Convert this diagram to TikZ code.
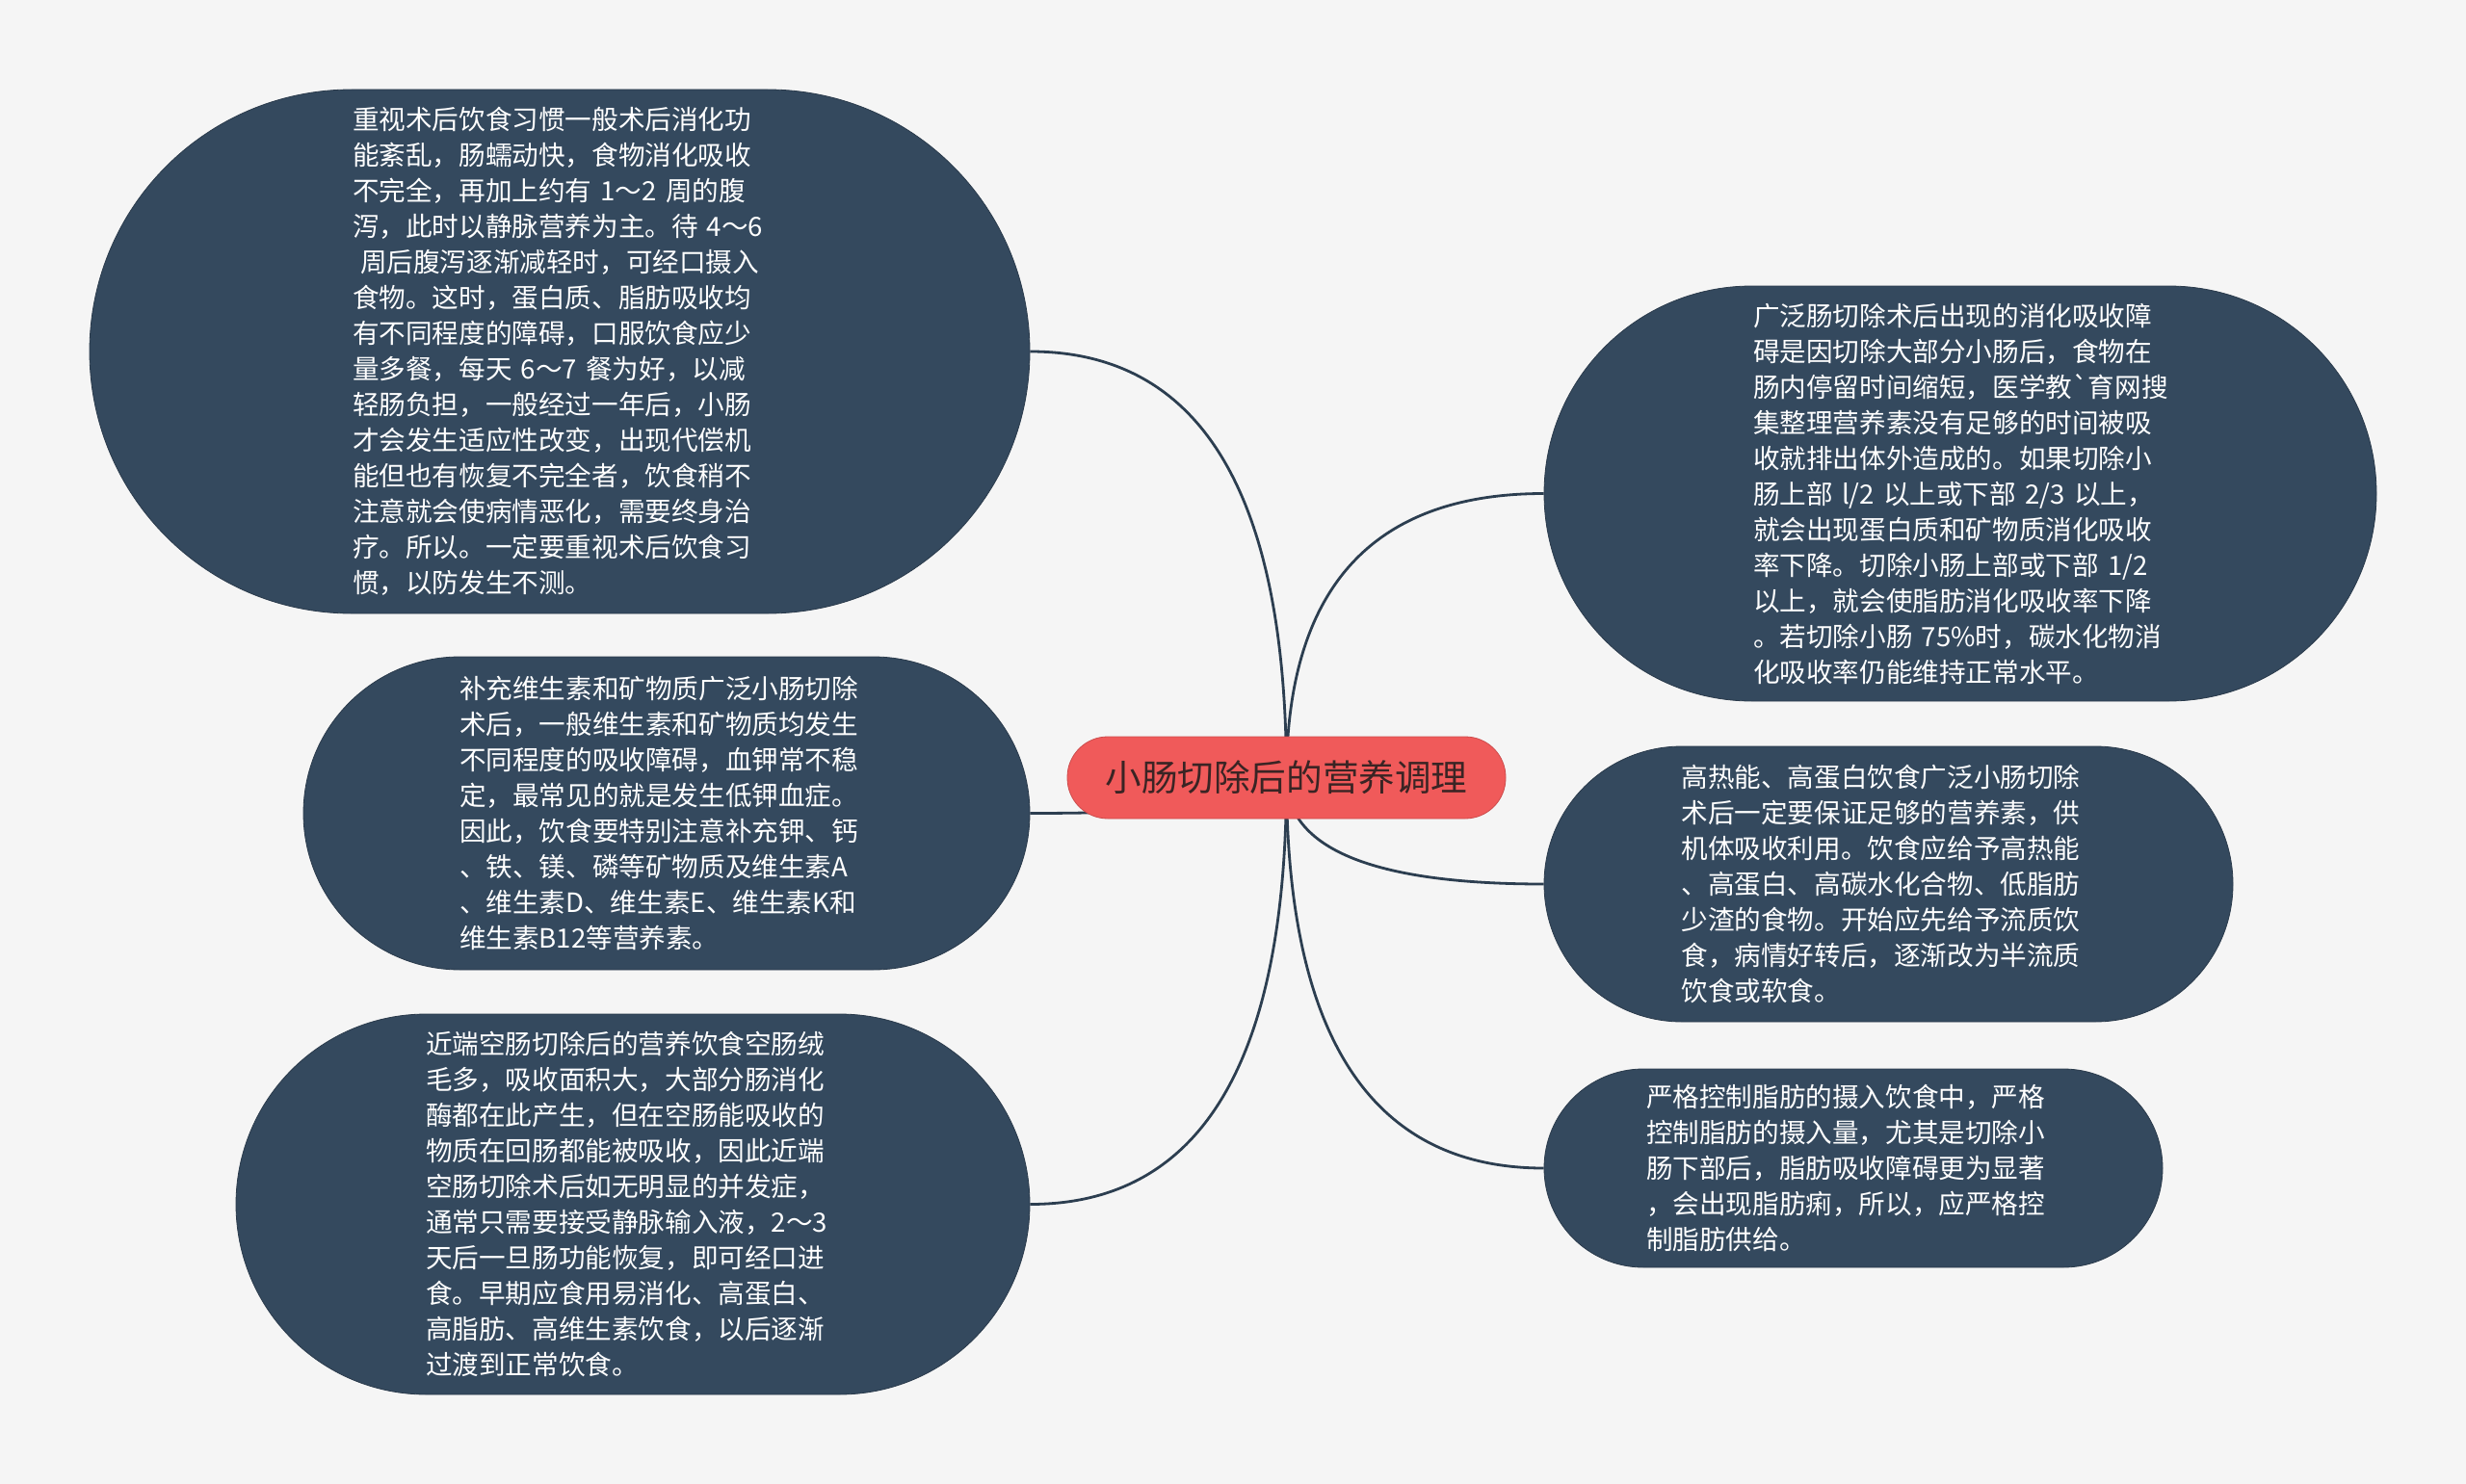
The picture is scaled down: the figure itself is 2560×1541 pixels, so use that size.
\documentclass[tikz,border=0pt]{standalone}
\usepackage{fontspec}
\newfontfamily\cjk{Noto Sans CJK SC}
\usetikzlibrary{calc}

\definecolor{paper}{HTML}{F5F5F5}
\definecolor{topicfill}{HTML}{34495E}
\definecolor{rootfill}{HTML}{F05A5A}
\definecolor{roottext}{HTML}{3A2424}
\definecolor{branchline}{HTML}{2C3E50}

\pgfdeclarelayer{paperlayer}
\pgfdeclarelayer{edgelayer}
\pgfsetlayers{paperlayer,edgelayer,main}

\tikzset{
  rootbox/.style={rectangle, rounded corners=21pt, fill=rootfill, draw=rootfill!85!black,
    line width=0.4pt, minimum width=227.5pt, minimum height=42.5pt, inner sep=0pt,
    text=roottext, font=\cjk\fontsize{18.8pt}{22pt}\selectfont},
  topic/.style={rectangle, fill=topicfill, draw=topicfill!80!black, line width=0.4pt,
    text=white, align=left, text width=215pt, inner sep=0pt,
    font=\cjk\fontsize{13.8pt}{18.5pt}\selectfont},
  branch/.style={draw=branchline, line width=1.4pt},
}

\begin{document}
\begin{tikzpicture}[x=0.5pt,y=-0.5pt]
  \begin{pgfonlayer}{paperlayer}
    \fill[paper] (0,0) rectangle (2560,1541);
  \end{pgfonlayer}
  \useasboundingbox (0,0) rectangle (2560,1541);

  % centre
  \node[rootbox] (diet) at (1335.5,807.5) {小肠切除后的营养调理};

  % left side
  \node[topic, minimum width=488pt, minimum height=272pt, rounded corners=136pt] (habit) at (581,365) {%
重视术后饮食习惯一般术后消化功\\
能紊乱，肠蠕动快，食物消化吸收\\
不完全，再加上约有 1～2 周的腹\\
泻，此时以静脉营养为主。待 4～6\\
\hspace*{4pt}周后腹泻逐渐减轻时，可经口摄入\\
食物。这时，蛋白质、脂肪吸收均\\
有不同程度的障碍，口服饮食应少\\
量多餐，每天 6～7 餐为好，以减\\
轻肠负担，一般经过一年后，小肠\\
才会发生适应性改变，出现代偿机\\
能但也有恢复不完全者，饮食稍不\\
注意就会使病情恶化，需要终身治\\
疗。所以。一定要重视术后饮食习\\
惯，以防发生不测。};
  \node[topic, minimum width=377pt, minimum height=162.5pt, rounded corners=81.25pt] (vitamin) at (692,844.5) {%
补充维生素和矿物质广泛小肠切除\\
术后，一般维生素和矿物质均发生\\
不同程度的吸收障碍，血钾常不稳\\
定，最常见的就是发生低钾血症。\\
因此，饮食要特别注意补充钾、钙\\
、铁、镁、磷等矿物质及维生素A\\
、维生素D、维生素E、维生素K和\\
维生素B12等营养素。};
  \node[topic, minimum width=412pt, minimum height=197.5pt, rounded corners=98.75pt] (jejunum) at (657,1250.5) {%
近端空肠切除后的营养饮食空肠绒\\
毛多，吸收面积大，大部分肠消化\\
酶都在此产生，但在空肠能吸收的\\
物质在回肠都能被吸收，因此近端\\
空肠切除术后如无明显的并发症，\\
通常只需要接受静脉输入液，2～3\\
天后一旦肠功能恢复，即可经口进\\
食。早期应食用易消化、高蛋白、\\
高脂肪、高维生素饮食，以后逐渐\\
过渡到正常饮食。};

  % right side
  \node[topic, minimum width=432pt, minimum height=215.5pt, rounded corners=107.75pt] (wide) at (2035,512.5) {%
广泛肠切除术后出现的消化吸收障\\
碍是因切除大部分小肠后，食物在\\
肠内停留时间缩短，医学教\textasciigrave 育网搜\\
集整理营养素没有足够的时间被吸\\
收就排出体外造成的。如果切除小\\
肠上部 l/2 以上或下部 2/3 以上，\\
就会出现蛋白质和矿物质消化吸收\\
率下降。切除小肠上部或下部 1/2\\
以上，就会使脂肪消化吸收率下降\\
。若切除小肠 75\%时，碳水化物消\\
化吸收率仍能维持正常水平。};
  \node[topic, minimum width=357.5pt, minimum height=143pt, rounded corners=71.5pt] (energy) at (1960.5,918) {%
高热能、高蛋白饮食广泛小肠切除\\
术后一定要保证足够的营养素，供\\
机体吸收利用。饮食应给予高热能\\
、高蛋白、高碳水化合物、低脂肪\\
少渣的食物。开始应先给予流质饮\\
食，病情好转后，逐渐改为半流质\\
饮食或软食。};
  \node[topic, minimum width=321pt, minimum height=103pt, rounded corners=51.5pt] (fat) at (1924,1213) {%
严格控制脂肪的摄入饮食中，严格\\
控制脂肪的摄入量，尤其是切除小\\
肠下部后，脂肪吸收障碍更为显著\\
，会出现脂肪痢，所以，应严格控\\
制脂肪供给。};

  % branches
  \begin{pgfonlayer}{edgelayer}
    \foreach \kid/\side in {habit/east, vitamin/east, jejunum/east, wide/west, energy/west, fat/west}
      \draw[branch] (diet.center)
        .. controls ($(diet.center)!2/3!(diet.center |- \kid.\side)$)
        and ($(\kid.\side)!2/3!(diet.center |- \kid.\side)$) .. (\kid.\side);
  \end{pgfonlayer}
\end{tikzpicture}
\end{document}
